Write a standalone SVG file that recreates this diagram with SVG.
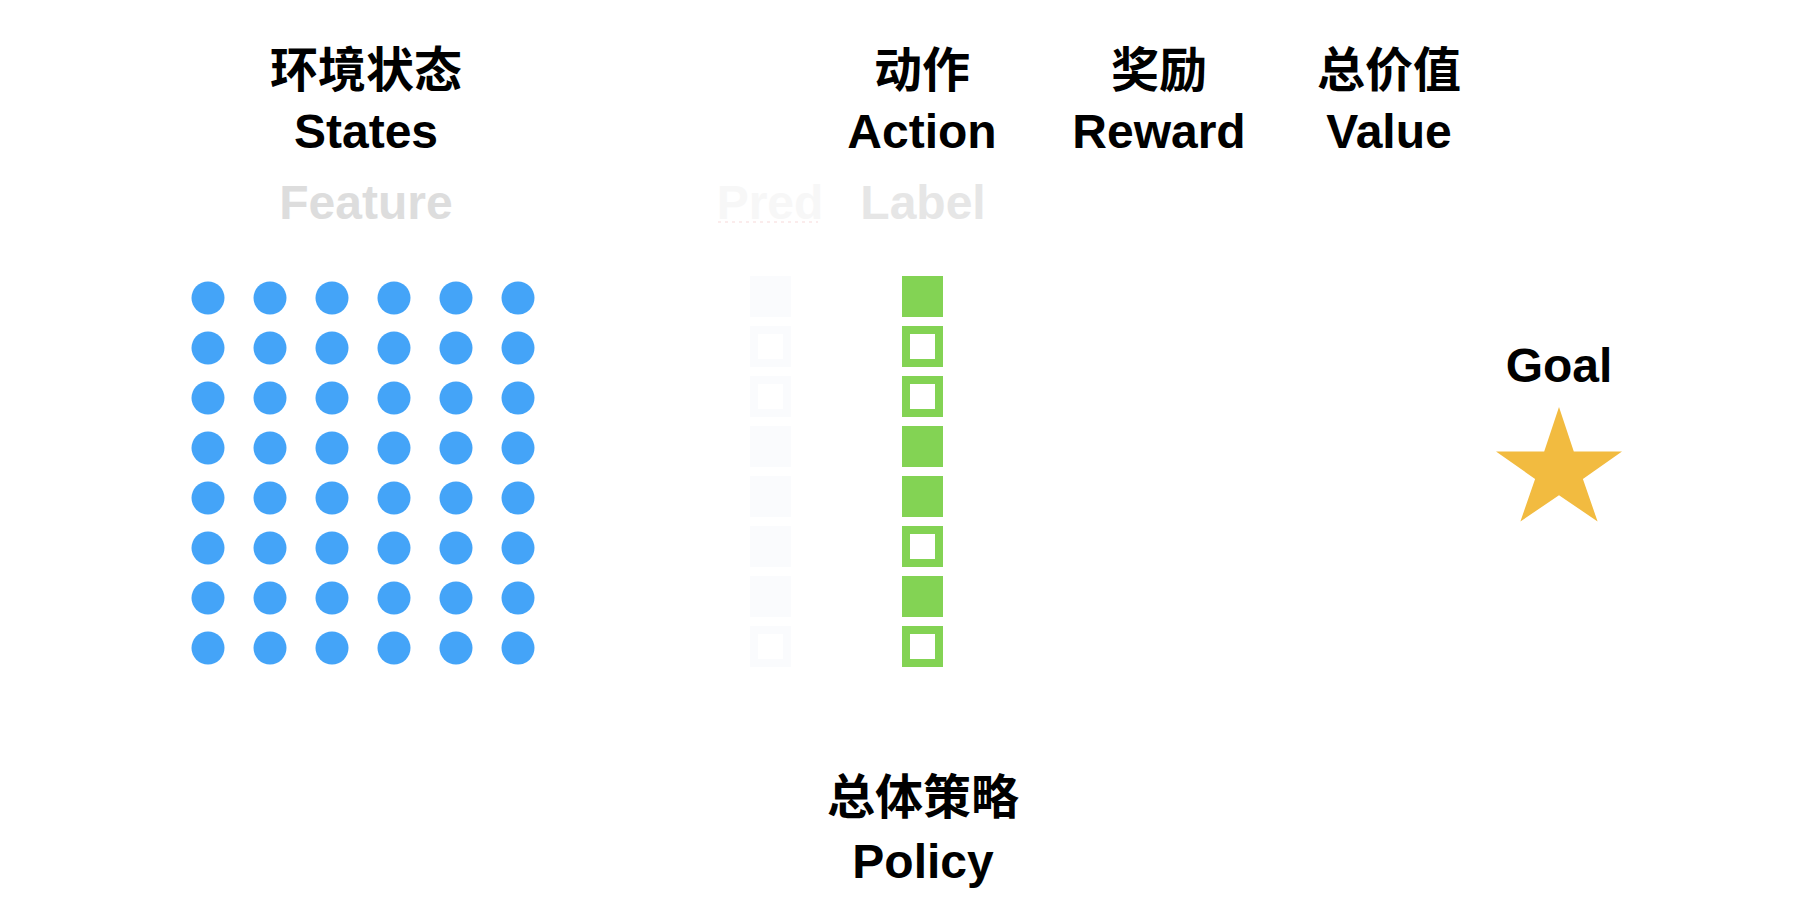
<svg xmlns="http://www.w3.org/2000/svg" width="1796" height="912" viewBox="0 0 1796 912">
<defs>
<style>
.t{font-family:"Liberation Sans","Noto Sans CJK SC",sans-serif;font-weight:bold;font-size:48px;text-anchor:middle;fill:#000}
.dot{fill:#44a4f8}
.lf{fill:#83d354}
.lh{fill:none;stroke:#83d354;stroke-width:8}
.pf{fill:#fafbfd}
.ph{fill:none;stroke:#fafbfd;stroke-width:8}
</style>
<circle id="d" r="16.5" class="dot"/>
</defs>
<rect width="1796" height="912" fill="#fff"/>
<g id="states-label">
<text class="t" x="366" y="87">环境状态</text>
<text class="t" x="366" y="148">States</text>
<text class="t" x="366" y="219" style="fill:#dddddd">Feature</text>
</g>
<g id="states-grid">
<use href="#d" x="208" y="298"/><use href="#d" x="270" y="298"/><use href="#d" x="332" y="298"/><use href="#d" x="394" y="298"/><use href="#d" x="456" y="298"/><use href="#d" x="518" y="298"/>
<use href="#d" x="208" y="348"/><use href="#d" x="270" y="348"/><use href="#d" x="332" y="348"/><use href="#d" x="394" y="348"/><use href="#d" x="456" y="348"/><use href="#d" x="518" y="348"/>
<use href="#d" x="208" y="398"/><use href="#d" x="270" y="398"/><use href="#d" x="332" y="398"/><use href="#d" x="394" y="398"/><use href="#d" x="456" y="398"/><use href="#d" x="518" y="398"/>
<use href="#d" x="208" y="448"/><use href="#d" x="270" y="448"/><use href="#d" x="332" y="448"/><use href="#d" x="394" y="448"/><use href="#d" x="456" y="448"/><use href="#d" x="518" y="448"/>
<use href="#d" x="208" y="498"/><use href="#d" x="270" y="498"/><use href="#d" x="332" y="498"/><use href="#d" x="394" y="498"/><use href="#d" x="456" y="498"/><use href="#d" x="518" y="498"/>
<use href="#d" x="208" y="548"/><use href="#d" x="270" y="548"/><use href="#d" x="332" y="548"/><use href="#d" x="394" y="548"/><use href="#d" x="456" y="548"/><use href="#d" x="518" y="548"/>
<use href="#d" x="208" y="598"/><use href="#d" x="270" y="598"/><use href="#d" x="332" y="598"/><use href="#d" x="394" y="598"/><use href="#d" x="456" y="598"/><use href="#d" x="518" y="598"/>
<use href="#d" x="208" y="648"/><use href="#d" x="270" y="648"/><use href="#d" x="332" y="648"/><use href="#d" x="394" y="648"/><use href="#d" x="456" y="648"/><use href="#d" x="518" y="648"/>
</g>
<g id="pred">
<text class="t" x="770" y="219" style="fill:#f7f7f7">Pred</text>
<line x1="718" y1="222" x2="818" y2="222" stroke="#fbecec" stroke-width="2" stroke-dasharray="3 4"/>
<rect class="pf" x="750" y="276" width="41" height="41"/>
<rect class="ph" x="754" y="330" width="33" height="33"/>
<rect class="ph" x="754" y="380" width="33" height="33"/>
<rect class="pf" x="750" y="426" width="41" height="41"/>
<rect class="pf" x="750" y="476" width="41" height="41"/>
<rect class="pf" x="750" y="526" width="41" height="41"/>
<rect class="pf" x="750" y="576" width="41" height="41"/>
<rect class="ph" x="754" y="630" width="33" height="33"/>
</g>
<g id="action">
<text class="t" x="922" y="87">动作</text>
<text class="t" x="922" y="148">Action</text>
<text class="t" x="923" y="219" style="fill:#e6e6e6">Label</text>
<rect class="lf" x="902" y="276" width="41" height="41"/>
<rect class="lh" x="906" y="330" width="33" height="33"/>
<rect class="lh" x="906" y="380" width="33" height="33"/>
<rect class="lf" x="902" y="426" width="41" height="41"/>
<rect class="lf" x="902" y="476" width="41" height="41"/>
<rect class="lh" x="906" y="530" width="33" height="33"/>
<rect class="lf" x="902" y="576" width="41" height="41"/>
<rect class="lh" x="906" y="630" width="33" height="33"/>
</g>
<g id="reward">
<text class="t" x="1159" y="87">奖励</text>
<text class="t" x="1159" y="148">Reward</text>
</g>
<g id="value">
<text class="t" x="1389" y="87">总价值</text>
<text class="t" x="1389" y="148">Value</text>
</g>
<g id="goal">
<text class="t" x="1559" y="382">Goal</text>
<polygon fill="#f2bb40" points="1559,407 1573.8,451.6 1622,451.6 1582.9,479 1597.6,521.5 1559,495.2 1520.4,521.5 1535.1,479 1496,451.6 1544.2,451.6"/>
</g>
<g id="policy">
<text class="t" x="923" y="814">总体策略</text>
<text class="t" x="923" y="878">Policy</text>
</g>
<g id="connectors"/>
</svg>
